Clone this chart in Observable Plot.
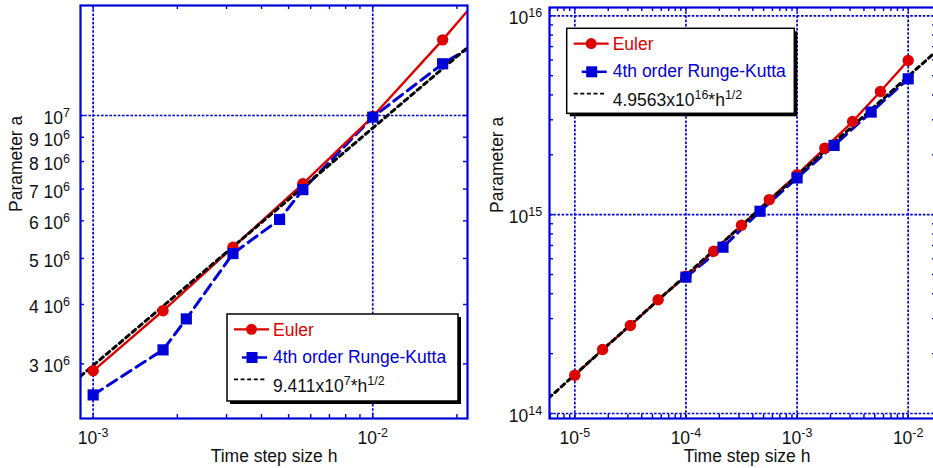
<!DOCTYPE html>
<html><head><meta charset="utf-8">
<script src="https://cdn.jsdelivr.net/npm/d3@7"></script>
<script src="https://cdn.jsdelivr.net/npm/@observablehq/plot@0.6"></script>
<style>
html,body{margin:0;padding:0;background:#fff;overflow:hidden;}
#wrap{position:relative;width:933px;height:468px;overflow:hidden;background:#fff;}
#wrap svg{position:absolute;top:0;}
</style></head><body><div id="wrap"></div>
<script>
// ---------- Left panel data ----------
const hEulerA = [1e-3, 1.778e-3, 3.162e-3, 5.623e-3, 1e-2, 1.778e-2, 3.162e-2];
const aEulerA = [2.90e6, 3.88e6, 5.28e6, 7.18e6, 9.95e6, 1.443e7, 2.14e7];
const hRKA = [1e-3, 1.778e-3, 2.154e-3, 3.162e-3, 4.642e-3, 5.623e-3, 1e-2, 1.778e-2, 3.162e-2];
const aRKA = [2.58e6, 3.21e6, 3.73e6, 5.12e6, 6.04e6, 6.98e6, 9.92e6, 1.285e7, 1.571e7];
const hFitA = [9.0e-4, 2.2e-2];
const aFitA = [2.823e6, 1.396e7];
const xTickValsA = [1e-3, 1e-2];
const xTickLabelsA = ["10^-3", "10^-2"];
const yTickValsA = [3e6, 4e6, 5e6, 6e6, 7e6, 8e6, 9e6, 1e7];
const yTickLabelsA = ["3 10^6", "4 10^6", "5 10^6", "6 10^6", "7 10^6", "8 10^6", "9 10^6", "10^7"];
const fitLabelA = ["9.411x10", "7", "*h", "1/2"];

// ---------- Right panel data ----------
const hEulerB = [1e-5, 1.778e-5, 3.162e-5, 5.623e-5, 1e-4, 1.778e-4, 3.162e-4, 5.623e-4, 1e-3, 1.778e-3, 3.162e-3, 5.623e-3, 1e-2];
const aEulerB = [1.557e14, 2.10e14, 2.77e14, 3.73e14, 4.90e14, 6.55e14, 8.84e14, 1.19e15, 1.588e15, 2.16e15, 2.94e15, 4.16e15, 5.96e15];
const hRKB = [1e-4, 2.154e-4, 4.642e-4, 1e-3, 2.154e-3, 4.642e-3, 1e-2];
const aRKB = [4.85e14, 6.86e14, 1.04e15, 1.53e15, 2.23e15, 3.28e15, 4.82e15];
const hFitB = [5.8e-6, 1.8e-2];
const aFitB = [1.194e14, 6.650e15];
const xTickValsB = [1e-5, 1e-4, 1e-3, 1e-2];
const xTickLabelsB = ["10^-5", "10^-4", "10^-3", "10^-2"];
const yTickValsB = [1e14, 1e15, 1e16];
const yTickLabelsB = ["10^14", "10^15", "10^16"];
const fitLabelB = ["4.9563x10", "16", "*h", "1/2"];

const seriesNames = ["Euler", "4th order Runge-Kutta"];
const axisTitleX = "Time step size h";
const axisTitleY = "Parameter a";

const BLUE = "#0000d8", RED = "#dd0000", INK = "#111";
const FONT = "'Liberation Sans', Arial, Helvetica, sans-serif";
const FS = 17.5;

function rows(hs, as) { return hs.map((h, i) => ({h, a: as[i]})); }
function logTicks(lo, hi) {
  const out = [];
  for (let e = Math.floor(Math.log10(lo)) ; e <= Math.ceil(Math.log10(hi)); e++)
    for (let m = 1; m <= 9; m++) { const v = m * Math.pow(10, e); if (v >= lo && v <= hi) out.push(v); }
  return out;
}

function supify(svg) {
  d3.select(svg).selectAll("text").each(function() {
    const t = this.textContent;
    if (!t.includes("^")) return;
    const [base, exp] = t.split("^");
    const sel = d3.select(this);
    sel.text(null);
    sel.append("tspan").text(base);
    sel.append("tspan").attr("font-size", 12.5).attr("dy", -7).text(exp);
  });
}

function legend(svg, o) {
  const g = d3.select(svg).append("g").attr("font-family", FONT).attr("font-size", FS).attr("text-anchor", "start");
  g.append("rect").attr("x", o.x + 3).attr("y", o.y + 3).attr("width", o.w).attr("height", o.h).attr("fill", "#000");
  g.append("rect").attr("x", o.x).attr("y", o.y).attr("width", o.w).attr("height", o.h)
    .attr("fill", "#fff").attr("stroke", "#000").attr("stroke-width", 1.5);
  // Euler
  g.append("line").attr("x1", o.x + 7).attr("x2", o.x + 42).attr("y1", o.y + 15.3).attr("y2", o.y + 15.3)
    .attr("stroke", RED).attr("stroke-width", 2.3);
  g.append("circle").attr("cx", o.x + 24.5).attr("cy", o.y + 15.3).attr("r", 5.5).attr("fill", RED);
  g.append("text").attr("x", o.x + 46).attr("y", o.y + 21.7).attr("fill", RED).text(seriesNames[0]);
  // RK
  g.append("line").attr("x1", o.x + 15).attr("x2", o.x + 40).attr("y1", o.y + 43.5).attr("y2", o.y + 43.5)
    .attr("stroke", BLUE).attr("stroke-width", 2.5);
  g.append("rect").attr("x", o.x + 25 - 5.5).attr("y", o.y + 43.5 - 5.5).attr("width", 11).attr("height", 11).attr("fill", BLUE);
  g.append("text").attr("x", o.x + 46).attr("y", o.y + 49).attr("fill", BLUE).text(seriesNames[1]);
  // fit
  g.append("line").attr("x1", o.x + 7).attr("x2", o.x + 40).attr("y1", o.y + 65.3).attr("y2", o.y + 65.3)
    .attr("stroke", "#000").attr("stroke-width", 1.8).attr("stroke-dasharray", "4,2.6");
  const t = g.append("text").attr("x", o.x + 46).attr("y", o.y + 77.5).attr("fill", INK);
  t.append("tspan").text(o.fit[0]);
  t.append("tspan").attr("font-size", 12.5).attr("dy", -7).text(o.fit[1]);
  t.append("tspan").attr("dy", 7).text(o.fit[2]);
  t.append("tspan").attr("font-size", 12.5).attr("dy", -7).text(o.fit[3]);
}

function panel(c) {
  const frameW = c.width - c.marginLeft - c.marginRight;
  const frameH = c.height - c.marginTop - c.marginBottom;
  const xMinor = logTicks(c.xDomain[0], c.xDomain[1]);
  const yMinor = logTicks(c.yDomain[0], c.yDomain[1]);
  const xLab = new Map(c.xTicks.map((v, i) => [v, c.xLabels[i]]));
  const yLab = new Map(c.yTicks.map((v, i) => [v, c.yLabels[i]]));
  const eul = rows(c.hE, c.aE), rk = rows(c.hR, c.aR), fit = rows(c.hF, c.aF);
  const tickStyle = {stroke: BLUE, strokeWidth: 1.4};
  const gridStyle = {stroke: BLUE, strokeOpacity: 1, strokeWidth: 1.7, strokeDasharray: "2.6,1.6"};
  const svg = Plot.plot({
    width: c.width, height: c.height,
    marginLeft: c.marginLeft, marginRight: c.marginRight, marginTop: c.marginTop, marginBottom: c.marginBottom,
    x: {type: "log", domain: c.xDomain, label: null},
    y: {type: "log", domain: c.yDomain, label: null},
    style: {fontFamily: FONT, fontSize: FS + "px", color: INK, background: "transparent", overflow: "visible"},
    marks: [
      Plot.gridX(c.gridX, gridStyle),
      Plot.gridY(c.gridY, gridStyle),
      Plot.tickX(xMinor, {x: d => d, ...tickStyle, insetTop: frameH - 4}),
      Plot.tickX(xMinor, {x: d => d, ...tickStyle, insetBottom: frameH - 4}),
      Plot.tickY(yMinor, {y: d => d, ...tickStyle, insetRight: frameW - 4}),
      Plot.tickY(yMinor, {y: d => d, ...tickStyle, insetLeft: frameW - 4}),
      Plot.line(rk, {x: "h", y: "a", stroke: BLUE, strokeWidth: 3, strokeDasharray: "11,6", clip: true}),
      Plot.line(eul, {x: "h", y: "a", stroke: RED, strokeWidth: 2.4, clip: true}),
      Plot.line(fit, {x: "h", y: "a", stroke: "#000", strokeWidth: 3, strokeDasharray: "4.5,4", clip: true}),
      Plot.dot(eul, {x: "h", y: "a", r: 5.7, fill: RED, clip: true}),
      Plot.dot(rk, {x: "h", y: "a", symbol: "square", r: 6.3, fill: BLUE, clip: true}),
      Plot.frame({stroke: BLUE, strokeWidth: 2.2}),
      Plot.axisX(c.xTicks, {anchor: "bottom", tickSize: 0, tickPadding: 13, tickFormat: d => xLab.get(d), fontSize: FS, label: null, fill: INK}),
      Plot.axisY(c.yTicks, {anchor: "left", tickSize: 0, tickPadding: c.yPad, dy: 3, tickFormat: d => yLab.get(d), fontSize: FS, label: null, fill: INK}),
      Plot.text([axisTitleX], {text: d => d, frameAnchor: "bottom", lineAnchor: "bottom", dy: 43.5, dx: c.titleDx || 0, fontSize: FS, fill: INK}),
      Plot.text([axisTitleY], {text: d => d, frameAnchor: "left", dx: c.yTitleDx, rotate: -90, fontSize: FS, fill: INK})
    ]
  });
  supify(svg);
  legend(svg, c.legend);
  svg.style.left = c.left + "px";
  return svg;
}

const wrap = document.getElementById("wrap");
wrap.appendChild(panel({
  left: 0, width: 470, height: 468, marginLeft: 80, marginRight: 3, marginTop: 5, marginBottom: 50,
  xDomain: [9.01e-4, 0.02182], yDomain: [2.3014e6, 1.7045e7],
  hE: hEulerA, aE: aEulerA, hR: hRKA, aR: aRKA, hF: hFitA, aF: aFitA,
  xTicks: xTickValsA, xLabels: xTickLabelsA, yTicks: yTickValsA, yLabels: yTickLabelsA,
  gridX: [1e-3, 1e-2], gridY: [1e7], yPad: 10.5, yTitleDx: -64,
  legend: {x: 227, y: 314, w: 231, h: 87, fit: fitLabelA}
}));
wrap.appendChild(panel({
  left: 470, width: 466, height: 468, marginLeft: 79, marginRight: 0, marginTop: 7, marginBottom: 50,
  xDomain: [5.919e-6, 0.01798], yDomain: [9.438e13, 1.1008e16],
  hE: hEulerB, aE: aEulerB, hR: hRKB, aR: aRKB, hF: hFitB, aF: aFitB,
  xTicks: xTickValsB, xLabels: xTickLabelsB, yTicks: yTickValsB, yLabels: yTickLabelsB,
  gridX: [1e-5, 1e-4, 1e-3, 1e-2], gridY: [1e14, 1e15, 1e16], yPad: 7.3, yTitleDx: -52, titleDx: 4,
  legend: {x: 96.7, y: 28.3, w: 227.6, h: 85, fit: fitLabelB}
}));
</script>
</body></html>
